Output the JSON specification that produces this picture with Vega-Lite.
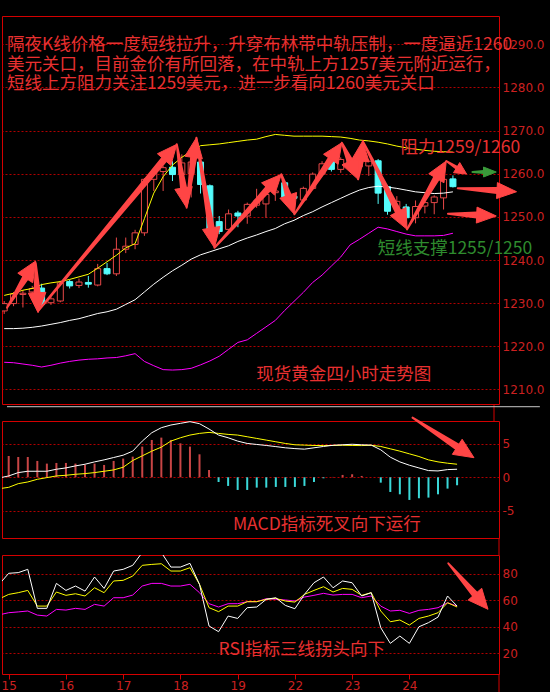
{
  "$schema": "https://vega.github.io/schema/vega-lite/v6.json",
  "background": "#000000",
  "padding": {"left": 0, "top": 15, "right": 12, "bottom": 12},
  "autosize": {"type": "pad"},
  "spacing": 17,
  "bounds": "flush",
  "config": {
    "view": {"stroke": "#d40000", "strokeWidth": 1},
    "axis": {"domain": false, "ticks": false, "grid": true, "gridColor": "#b00000", "gridDash": [2, 2], "gridWidth": 1, "labelColor": "#cc2020", "labelFont": "DejaVu Sans", "labelFontSize": 12, "labelPadding": 3, "labelOverlap": false}
  },
  "datasets": {
    "k": [
      {"i":-1,"o":1228.2,"h":1230.5,"l":1227.5,"c":1229.9,"up":1231.8,"mid":1224.1,"lo":1216.3},
      {"i":0,"o":1229.9,"h":1232.6,"l":1229.3,"c":1232.1,"up":1232.3,"mid":1224.1,"lo":1216.2},
      {"i":1,"o":1232.0,"h":1233.0,"l":1229.0,"c":1232.3,"up":1233.0,"mid":1224.2,"lo":1215.9},
      {"i":2,"o":1232.6,"h":1234.0,"l":1232.2,"c":1233.4,"up":1233.4,"mid":1224.4,"lo":1215.6},
      {"i":3,"o":1233.5,"h":1234.5,"l":1229.2,"c":1229.7,"up":1234.3,"mid":1224.7,"lo":1215.2},
      {"i":4,"o":1230.1,"h":1231.5,"l":1229.6,"c":1231.0,"up":1234.7,"mid":1225.1,"lo":1215.6},
      {"i":5,"o":1230.5,"h":1235.2,"l":1230.2,"c":1234.7,"up":1235.0,"mid":1225.5,"lo":1216.1},
      {"i":6,"o":1235.0,"h":1235.4,"l":1233.4,"c":1234.0,"up":1235.5,"mid":1226.0,"lo":1216.5},
      {"i":7,"o":1234.1,"h":1235.7,"l":1233.5,"c":1234.9,"up":1236.1,"mid":1226.4,"lo":1216.8},
      {"i":8,"o":1234.8,"h":1236.3,"l":1233.6,"c":1234.4,"up":1236.7,"mid":1227.0,"lo":1217.0},
      {"i":9,"o":1234.2,"h":1239.1,"l":1233.9,"c":1238.0,"up":1238.1,"mid":1227.6,"lo":1217.1},
      {"i":10,"o":1238.0,"h":1239.3,"l":1236.5,"c":1236.8,"up":1239.6,"mid":1228.0,"lo":1217.3},
      {"i":11,"o":1236.8,"h":1245.2,"l":1236.3,"c":1242.5,"up":1241.1,"mid":1228.6,"lo":1217.4},
      {"i":12,"o":1242.5,"h":1245.2,"l":1241.6,"c":1243.2,"up":1242.8,"mid":1229.7,"lo":1217.8},
      {"i":13,"o":1243.6,"h":1247.0,"l":1242.5,"c":1246.3,"up":1243.8,"mid":1230.8,"lo":1218.3},
      {"i":14,"o":1246.3,"h":1259.0,"l":1245.6,"c":1258.7,"up":1249.6,"mid":1232.6,"lo":1216.5},
      {"i":15,"o":1258.7,"h":1261.0,"l":1256.0,"c":1260.2,"up":1255.5,"mid":1234.4,"lo":1215.5},
      {"i":16,"o":1260.5,"h":1261.8,"l":1256.0,"c":1261.4,"up":1259.3,"mid":1236.0,"lo":1214.6},
      {"i":17,"o":1261.5,"h":1262.9,"l":1258.3,"c":1259.8,"up":1262.0,"mid":1237.5,"lo":1214.5},
      {"i":18,"o":1259.8,"h":1264.5,"l":1258.0,"c":1262.5,"up":1263.8,"mid":1238.8,"lo":1214.6},
      {"i":19,"o":1260.0,"h":1264.0,"l":1254.5,"c":1262.7,"up":1265.2,"mid":1240.2,"lo":1214.9},
      {"i":20,"o":1262.7,"h":1263.0,"l":1255.4,"c":1257.5,"up":1266.5,"mid":1241.2,"lo":1215.7},
      {"i":21,"o":1257.2,"h":1257.5,"l":1246.5,"c":1247.0,"up":1266.7,"mid":1241.9,"lo":1216.6},
      {"i":22,"o":1248.9,"h":1250.2,"l":1246.0,"c":1246.6,"up":1266.9,"mid":1242.6,"lo":1217.7},
      {"i":23,"o":1247.1,"h":1251.7,"l":1246.8,"c":1250.7,"up":1267.2,"mid":1243.3,"lo":1219.3},
      {"i":24,"o":1250.9,"h":1251.4,"l":1247.6,"c":1250.2,"up":1267.5,"mid":1244.3,"lo":1220.9},
      {"i":25,"o":1250.2,"h":1253.3,"l":1248.4,"c":1252.9,"up":1267.8,"mid":1245.1,"lo":1221.5},
      {"i":26,"o":1252.7,"h":1256.5,"l":1252.1,"c":1253.7,"up":1268.0,"mid":1245.8,"lo":1223.0},
      {"i":27,"o":1253.0,"h":1255.6,"l":1249.8,"c":1255.2,"up":1268.6,"mid":1246.6,"lo":1224.5},
      {"i":28,"o":1255.6,"h":1257.9,"l":1253.7,"c":1256.0,"up":1269.1,"mid":1247.3,"lo":1226.0},
      {"i":29,"o":1257.9,"h":1258.3,"l":1254.2,"c":1254.6,"up":1268.9,"mid":1248.4,"lo":1228.3},
      {"i":30,"o":1254.8,"h":1255.2,"l":1253.5,"c":1254.3,"up":1268.7,"mid":1249.2,"lo":1230.4},
      {"i":31,"o":1253.9,"h":1257.0,"l":1253.5,"c":1256.6,"up":1268.7,"mid":1250.3,"lo":1232.5},
      {"i":32,"o":1256.6,"h":1260.3,"l":1256.2,"c":1259.9,"up":1268.7,"mid":1251.2,"lo":1234.8},
      {"i":33,"o":1259.9,"h":1262.9,"l":1259.5,"c":1262.3,"up":1268.7,"mid":1252.3,"lo":1236.5},
      {"i":34,"o":1263.1,"h":1263.5,"l":1260.5,"c":1261.0,"up":1268.6,"mid":1253.3,"lo":1238.6},
      {"i":35,"o":1261.0,"h":1263.8,"l":1260.2,"c":1263.3,"up":1268.5,"mid":1254.3,"lo":1240.7},
      {"i":36,"o":1263.3,"h":1263.8,"l":1261.0,"c":1261.6,"up":1268.2,"mid":1255.3,"lo":1243.5},
      {"i":37,"o":1261.6,"h":1263.2,"l":1260.8,"c":1262.4,"up":1267.8,"mid":1256.2,"lo":1244.8},
      {"i":38,"o":1261.8,"h":1263.3,"l":1259.5,"c":1262.9,"up":1267.6,"mid":1256.8,"lo":1246.2},
      {"i":39,"o":1263.0,"h":1263.4,"l":1253.0,"c":1255.5,"up":1267.3,"mid":1257.1,"lo":1247.6},
      {"i":40,"o":1257.0,"h":1257.4,"l":1250.5,"c":1251.3,"up":1266.9,"mid":1256.9,"lo":1247.2},
      {"i":41,"o":1252.2,"h":1254.8,"l":1250.8,"c":1253.6,"up":1266.4,"mid":1256.6,"lo":1246.6},
      {"i":42,"o":1252.3,"h":1253.0,"l":1248.5,"c":1249.8,"up":1266.0,"mid":1256.2,"lo":1246.0},
      {"i":43,"o":1249.8,"h":1253.8,"l":1248.5,"c":1252.4,"up":1265.7,"mid":1255.8,"lo":1245.6},
      {"i":44,"o":1252.5,"h":1254.0,"l":1250.8,"c":1253.3,"up":1265.4,"mid":1255.6,"lo":1245.6},
      {"i":45,"o":1253.3,"h":1255.0,"l":1250.6,"c":1254.6,"up":1265.2,"mid":1255.4,"lo":1245.6},
      {"i":46,"o":1254.4,"h":1260.5,"l":1251.7,"c":1258.7,"up":1265.1,"mid":1255.5,"lo":1245.7},
      {"i":47,"o":1258.8,"h":1259.6,"l":1256.8,"c":1257.0,"up":1265.0,"mid":1255.8,"lo":1246.2}
    ],
    "m": [
      {"i":-1,"dif":-0.1,"dea":-1.7,"hist":3.3},
      {"i":0,"dif":0.2,"dea":-1.5,"hist":3.18},
      {"i":1,"dif":0.7,"dea":-0.95,"hist":3.03},
      {"i":2,"dif":0.9,"dea":-0.7,"hist":3.03},
      {"i":3,"dif":0.9,"dea":-0.3,"hist":2.44},
      {"i":4,"dif":0.9,"dea":-0.05,"hist":2.04},
      {"i":5,"dif":1.2,"dea":0.2,"hist":2.14},
      {"i":6,"dif":1.4,"dea":0.3,"hist":2.14},
      {"i":7,"dif":1.7,"dea":0.45,"hist":2.04},
      {"i":8,"dif":1.95,"dea":0.55,"hist":1.84},
      {"i":9,"dif":2.3,"dea":0.7,"hist":2.04},
      {"i":10,"dif":2.6,"dea":0.9,"hist":1.84},
      {"i":11,"dif":2.95,"dea":1.1,"hist":2.44},
      {"i":12,"dif":3.3,"dea":1.5,"hist":2.79},
      {"i":13,"dif":3.9,"dea":2.5,"hist":3.08},
      {"i":14,"dif":5.4,"dea":3.2,"hist":4.58},
      {"i":15,"dif":6.65,"dea":3.9,"hist":5.57},
      {"i":16,"dif":7.4,"dea":4.5,"hist":5.92},
      {"i":17,"dif":7.8,"dea":5.4,"hist":5.57},
      {"i":18,"dif":8.05,"dea":5.9,"hist":5.07},
      {"i":19,"dif":8.3,"dea":6.3,"hist":4.58},
      {"i":20,"dif":8.0,"dea":6.55,"hist":3.43},
      {"i":21,"dif":7.2,"dea":6.7,"hist":1.09},
      {"i":22,"dif":6.3,"dea":6.55,"hist":-0.7},
      {"i":23,"dif":5.9,"dea":6.4,"hist":-1.29},
      {"i":24,"dif":5.4,"dea":6.3,"hist":-1.89},
      {"i":25,"dif":5.05,"dea":6.05,"hist":-1.89},
      {"i":26,"dif":4.9,"dea":5.8,"hist":-1.54},
      {"i":27,"dif":4.75,"dea":5.55,"hist":-1.54},
      {"i":28,"dif":4.58,"dea":5.3,"hist":-1.44},
      {"i":29,"dif":4.4,"dea":5.05,"hist":-1.44},
      {"i":30,"dif":4.28,"dea":4.85,"hist":-1.44},
      {"i":31,"dif":4.2,"dea":4.8,"hist":-1.29},
      {"i":32,"dif":4.4,"dea":4.75,"hist":-0.7},
      {"i":33,"dif":4.6,"dea":4.73,"hist":-0.15},
      {"i":34,"dif":4.78,"dea":4.75,"hist":0.05},
      {"i":35,"dif":4.85,"dea":4.78,"hist":0.35},
      {"i":36,"dif":4.93,"dea":4.75,"hist":0.45},
      {"i":37,"dif":4.85,"dea":4.73,"hist":0.2},
      {"i":38,"dif":4.8,"dea":4.78,"hist":0.0},
      {"i":39,"dif":4.1,"dea":4.6,"hist":-0.8},
      {"i":40,"dif":3.0,"dea":4.25,"hist":-2.19},
      {"i":41,"dif":2.3,"dea":3.9,"hist":-2.54},
      {"i":42,"dif":1.8,"dea":3.5,"hist":-3.38},
      {"i":43,"dif":1.4,"dea":3.1,"hist":-3.13},
      {"i":44,"dif":1.0,"dea":2.6,"hist":-3.03},
      {"i":45,"dif":0.95,"dea":2.3,"hist":-2.54},
      {"i":46,"dif":1.15,"dea":2.1,"hist":-1.69},
      {"i":47,"dif":1.2,"dea":1.95,"hist":-1.19}
    ],
    "r": [
      {"i":-1,"r1":72,"r2":61,"r3":49},
      {"i":0,"r1":80.3,"r2":64.4,"r3":50.6},
      {"i":1,"r1":80.8,"r2":65.7,"r3":51.2},
      {"i":2,"r1":83.3,"r2":67.4,"r3":51.9},
      {"i":3,"r1":53.9,"r2":55.6,"r3":48.8},
      {"i":4,"r1":53.9,"r2":55.6,"r3":48.1},
      {"i":5,"r1":72.7,"r2":66.2,"r3":53.1},
      {"i":6,"r1":67.4,"r2":63.7,"r3":52.6},
      {"i":7,"r1":70.7,"r2":64.9,"r3":53.9},
      {"i":8,"r1":66.9,"r2":63.2,"r3":53.1},
      {"i":9,"r1":77.5,"r2":69.4,"r3":56.9},
      {"i":10,"r1":68.9,"r2":65.7,"r3":55.6},
      {"i":11,"r1":82,"r2":74.5,"r3":61.9},
      {"i":12,"r1":83.3,"r2":75,"r3":61.9},
      {"i":13,"r1":86.3,"r2":78.2,"r3":63.9},
      {"i":14,"r1":96,"r2":86.3,"r3":70.7},
      {"i":15,"r1":97,"r2":87,"r3":72.7},
      {"i":16,"r1":96,"r2":87.5,"r3":72.7},
      {"i":17,"r1":85,"r2":82,"r3":70.7},
      {"i":18,"r1":85,"r2":82,"r3":70.7},
      {"i":19,"r1":87.8,"r2":84.5,"r3":72},
      {"i":20,"r1":72,"r2":72,"r3":65.7},
      {"i":21,"r1":40.6,"r2":54.4,"r3":57.4},
      {"i":22,"r1":36.3,"r2":51.4,"r3":54.9},
      {"i":23,"r1":48.1,"r2":55.6,"r3":57.4},
      {"i":24,"r1":46.3,"r2":55.6,"r3":57.4},
      {"i":25,"r1":54.4,"r2":58.9,"r3":58.9},
      {"i":26,"r1":54.9,"r2":58.9,"r3":58.9},
      {"i":27,"r1":60.7,"r2":60.7,"r3":61.2},
      {"i":28,"r1":61.9,"r2":61.4,"r3":60.7},
      {"i":29,"r1":56.1,"r2":59.4,"r3":60.2},
      {"i":30,"r1":53.6,"r2":58.6,"r3":59.4},
      {"i":31,"r1":64.4,"r2":64.4,"r3":62.4},
      {"i":32,"r1":73.2,"r2":67.4,"r3":63.7},
      {"i":33,"r1":77.5,"r2":70.2,"r3":65.2},
      {"i":34,"r1":69.4,"r2":66.2,"r3":63.9},
      {"i":35,"r1":74.5,"r2":68.9,"r3":64.4},
      {"i":36,"r1":73.2,"r2":68.2,"r3":64.4},
      {"i":37,"r1":63.2,"r2":63.7,"r3":61.9},
      {"i":38,"r1":65.7,"r2":65.7,"r3":63.2},
      {"i":39,"r1":39.3,"r2":51.9,"r3":55.6},
      {"i":40,"r1":27.5,"r2":43.8,"r3":51.9},
      {"i":41,"r1":33,"r2":45.1,"r3":52.4},
      {"i":42,"r1":27.5,"r2":41.3,"r3":50.1},
      {"i":43,"r1":40,"r2":46.3,"r3":52.4},
      {"i":44,"r1":43.1,"r2":48.1,"r3":53.1},
      {"i":45,"r1":47.3,"r2":50.6,"r3":54.4},
      {"i":46,"r1":63.2,"r2":58.1,"r3":58.1},
      {"i":47,"r1":55.6,"r2":54.9,"r3":55.6}
    ],
    "arr": [
      {"a":"A1","g":"s","part":"tail","o":1,"i":-0.702,"v":1228.95,"k":"red"},
      {"a":"A1","g":"s","part":"neck","o":2,"i":1.254,"v":1235.84,"k":"red"},
      {"a":"A1","g":"h","o":1,"i":0.454,"v":1236.95,"k":"red"},
      {"a":"A1","g":"h","o":2,"i":2.369,"v":1239.77,"k":"red"},
      {"a":"A1","g":"h","o":3,"i":2.053,"v":1234.73,"k":"red"},
      {"a":"A2","g":"s","part":"tail","o":1,"i":2.369,"v":1239.30,"k":"red"},
      {"a":"A2","g":"s","part":"neck","o":2,"i":2.520,"v":1232.42,"k":"red"},
      {"a":"A2","g":"h","o":1,"i":3.462,"v":1232.52,"k":"red"},
      {"a":"A2","g":"h","o":2,"i":2.621,"v":1227.79,"k":"red"},
      {"a":"A2","g":"h","o":3,"i":1.578,"v":1232.32,"k":"red"},
      {"a":"A3","g":"s","part":"tail","o":1,"i":2.621,"v":1228.18,"k":"red"},
      {"a":"A3","g":"s","part":"neck","o":2,"i":16.106,"v":1263.28,"k":"red"},
      {"a":"A3","g":"h","o":1,"i":15.387,"v":1264.63,"k":"red"},
      {"a":"A3","g":"h","o":2,"i":17.463,"v":1266.81,"k":"red"},
      {"a":"A3","g":"h","o":3,"i":16.825,"v":1261.93,"k":"red"},
      {"a":"A4","g":"s","part":"tail","o":1,"i":17.463,"v":1266.81,"k":"red"},
      {"a":"A4","g":"s","part":"neck","o":2,"i":18.185,"v":1256.70,"k":"red"},
      {"a":"A4","g":"h","o":1,"i":19.116,"v":1257.02,"k":"red"},
      {"a":"A4","g":"h","o":2,"i":18.512,"v":1252.12,"k":"red"},
      {"a":"A4","g":"h","o":3,"i":17.253,"v":1256.38,"k":"red"},
      {"a":"A5","g":"s","part":"tail","o":1,"i":18.512,"v":1252.12,"k":"red"},
      {"a":"A5","g":"s","part":"neck","o":2,"i":19.263,"v":1263.75,"k":"red"},
      {"a":"A5","g":"h","o":1,"i":18.329,"v":1264.05,"k":"red"},
      {"a":"A5","g":"h","o":2,"i":19.560,"v":1268.34,"k":"red"},
      {"a":"A5","g":"h","o":3,"i":20.197,"v":1263.46,"k":"red"},
      {"a":"A6","g":"s","part":"tail","o":1,"i":19.560,"v":1268.34,"k":"red"},
      {"a":"A6","g":"s","part":"neck","o":2,"i":21.143,"v":1247.42,"k":"red"},
      {"a":"A6","g":"h","o":1,"i":22.073,"v":1247.77,"k":"red"},
      {"a":"A6","g":"h","o":2,"i":21.488,"v":1242.85,"k":"red"},
      {"a":"A6","g":"h","o":3,"i":20.212,"v":1247.08,"k":"red"},
      {"a":"A7","g":"s","part":"tail","o":1,"i":21.488,"v":1242.85,"k":"red"},
      {"a":"A7","g":"s","part":"neck","o":2,"i":27.220,"v":1256.47,"k":"red"},
      {"a":"A7","g":"h","o":1,"i":26.529,"v":1257.89,"k":"red"},
      {"a":"A7","g":"h","o":2,"i":28.648,"v":1259.86,"k":"red"},
      {"a":"A7","g":"h","o":3,"i":27.911,"v":1255.05,"k":"red"},
      {"a":"A8","g":"s","part":"tail","o":1,"i":28.648,"v":1259.86,"k":"red"},
      {"a":"A8","g":"s","part":"neck","o":2,"i":29.381,"v":1254.99,"k":"red"},
      {"a":"A8","g":"h","o":1,"i":30.276,"v":1255.65,"k":"red"},
      {"a":"A8","g":"h","o":2,"i":30.042,"v":1250.59,"k":"red"},
      {"a":"A8","g":"h","o":3,"i":28.485,"v":1254.33,"k":"red"},
      {"a":"A9","g":"s","part":"tail","o":1,"i":30.042,"v":1250.59,"k":"red"},
      {"a":"A9","g":"s","part":"neck","o":2,"i":33.941,"v":1263.34,"k":"red"},
      {"a":"A9","g":"h","o":1,"i":33.159,"v":1264.51,"k":"red"},
      {"a":"A9","g":"h","o":2,"i":35.115,"v":1267.18,"k":"red"},
      {"a":"A9","g":"h","o":3,"i":34.723,"v":1262.18,"k":"red"},
      {"a":"A10","g":"s","part":"tail","o":1,"i":35.115,"v":1267.18,"k":"red"},
      {"a":"A10","g":"s","part":"neck","o":2,"i":35.990,"v":1262.92,"k":"red"},
      {"a":"A10","g":"h","o":1,"i":36.849,"v":1263.78,"k":"red"},
      {"a":"A10","g":"h","o":2,"i":36.855,"v":1258.70,"k":"red"},
      {"a":"A10","g":"h","o":3,"i":35.130,"v":1262.06,"k":"red"},
      {"a":"A11","g":"s","part":"tail","o":1,"i":36.855,"v":1258.70,"k":"red"},
      {"a":"A11","g":"s","part":"neck","o":2,"i":37.092,"v":1262.98,"k":"red"},
      {"a":"A11","g":"h","o":1,"i":36.156,"v":1263.23,"k":"red"},
      {"a":"A11","g":"h","o":2,"i":37.348,"v":1267.58,"k":"red"},
      {"a":"A11","g":"h","o":3,"i":38.028,"v":1262.72,"k":"red"},
      {"a":"A12","g":"s","part":"tail","o":1,"i":37.348,"v":1267.58,"k":"red"},
      {"a":"A12","g":"s","part":"neck","o":2,"i":41.139,"v":1251.24,"k":"red"},
      {"a":"A12","g":"h","o":1,"i":41.979,"v":1252.19,"k":"red"},
      {"a":"A12","g":"h","o":2,"i":42.096,"v":1247.11,"k":"red"},
      {"a":"A12","g":"h","o":3,"i":40.300,"v":1250.29,"k":"red"},
      {"a":"A13","g":"s","part":"tail","o":1,"i":42.096,"v":1247.11,"k":"red"},
      {"a":"A13","g":"s","part":"neck","o":2,"i":45.230,"v":1258.94,"k":"red"},
      {"a":"A13","g":"h","o":1,"i":44.415,"v":1260.00,"k":"red"},
      {"a":"A13","g":"h","o":2,"i":46.289,"v":1262.94,"k":"red"},
      {"a":"A13","g":"h","o":3,"i":46.044,"v":1257.89,"k":"red"},
      {"a":"A14","g":"s","part":"tail","o":1,"i":46.289,"v":1262.94,"k":"red"},
      {"a":"A14","g":"s","part":"neck_s","o":2,"i":47.394,"v":1261.41,"k":"red"},
      {"a":"A14","g":"h","o":1,"i":47.729,"v":1262.59,"k":"red"},
      {"a":"A14","g":"h","o":2,"i":48.459,"v":1259.93,"k":"red"},
      {"a":"A14","g":"h","o":3,"i":47.060,"v":1260.23,"k":"red"},
      {"a":"A15","g":"s","part":"tail","o":1,"i":47.516,"v":1256.62,"k":"red"},
      {"a":"A15","g":"s","part":"neck","o":2,"i":51.712,"v":1256.09,"k":"red"},
      {"a":"A15","g":"h","o":1,"i":51.759,"v":1257.94,"k":"red"},
      {"a":"A15","g":"h","o":2,"i":53.805,"v":1255.83,"k":"red"},
      {"a":"A15","g":"h","o":3,"i":51.665,"v":1254.24,"k":"red"},
      {"a":"A16","g":"s","part":"tail","o":1,"i":46.468,"v":1250.73,"k":"red"},
      {"a":"A16","g":"s","part":"neck","o":2,"i":49.541,"v":1250.41,"k":"red"},
      {"a":"A16","g":"h","o":1,"i":49.580,"v":1252.26,"k":"red"},
      {"a":"A16","g":"h","o":2,"i":51.635,"v":1250.20,"k":"red"},
      {"a":"A16","g":"h","o":3,"i":49.502,"v":1248.56,"k":"red"},
      {"a":"A17","g":"s","part":"tail","o":1,"i":49.088,"v":1260.39,"k":"green"},
      {"a":"A17","g":"s","part":"neck_s","o":2,"i":50.273,"v":1260.39,"k":"green"},
      {"a":"A17","g":"h","o":1,"i":50.273,"v":1261.55,"k":"green"},
      {"a":"A17","g":"h","o":2,"i":51.635,"v":1260.39,"k":"green"},
      {"a":"A17","g":"h","o":3,"i":50.273,"v":1259.24,"k":"green"}
    ],
    "arrm": [
      {"a":"M1","g":"s","part":"tail","o":1,"i":42.327,"v":8.896,"k":"red"},
      {"a":"M1","g":"s","part":"neck","o":2,"i":47.016,"v":4.554,"k":"red"},
      {"a":"M1","g":"h","o":1,"i":47.531,"v":5.679,"k":"red"},
      {"a":"M1","g":"h","o":2,"i":48.774,"v":2.925,"k":"red"},
      {"a":"M1","g":"h","o":3,"i":46.502,"v":3.428,"k":"red"}
    ],
    "arrr": [
      {"a":"R1","g":"s","part":"tail","o":1,"i":46.080,"v":87.84,"k":"red"},
      {"a":"R1","g":"s","part":"neck","o":2,"i":48.872,"v":64.58,"k":"red"},
      {"a":"R1","g":"h","o":1,"i":49.585,"v":69.01,"k":"red"},
      {"a":"R1","g":"h","o":2,"i":50.241,"v":53.17,"k":"red"},
      {"a":"R1","g":"h","o":3,"i":48.158,"v":60.15,"k":"red"}
    ],
    "notes": [
      {"p":"main","t":"隔夜K线价格一度短线拉升，升穿布林带中轨压制，一度逼近1260","i":-0.702,"v":1289.83,"k":"txt"},
      {"p":"main","t":"美元关口，目前金价有所回落，在中轨上方1257美元附近运行，","i":-0.702,"v":1285.31,"k":"txt"},
      {"p":"main","t":"短线上方阻力关注1259美元，进一步看向1260美元关口","i":-0.702,"v":1280.79,"k":"txt"},
      {"p":"main","t":"阻力1259/1260","i":41.4,"v":1266.03,"k":"txt"},
      {"p":"main","t":"短线支撑1255/1250","i":38.95,"v":1242.48,"k":"gtxt"},
      {"p":"main","t":"现货黄金四小时走势图","i":25.97,"v":1213.35,"k":"txt"},
      {"p":"macd","t":"MACD指标死叉向下运行","i":23.5,"v":-7.12,"k":"txt"},
      {"p":"rsi","t":"RSI指标三线拐头向下","i":22.0,"v":22.5,"k":"txt"}
    ]
  },
  "vconcat": [
    {
      "width": 497,
      "height": 388,
      "layer": [
        {
          "data": {"name": "k"},
          "mark": {"type": "rule", "clip": true, "strokeWidth": 1},
          "encoding": {
            "x": {"field": "i", "type": "quantitative", "scale": {"domain": [-0.702, 51.394], "nice": false, "zero": false}, "axis": null},
            "y": {"field": "l", "type": "quantitative", "scale": {"domain": [1206.63, 1296.55], "nice": false, "zero": false}, "axis": {"orient": "right", "title": null, "values": [1210, 1220, 1230, 1240, 1250, 1260, 1270, 1280, 1290], "format": ".1f"}},
            "y2": {"field": "h"},
            "color": {"condition": {"test": "datum.c >= datum.o", "value": "#e84848"}, "value": "#54fcfc"}
          }
        },
        {
          "data": {"name": "k"},
          "mark": {"type": "bar", "size": 6, "clip": true, "strokeWidth": 1},
          "encoding": {
            "x": {"field": "i", "type": "quantitative", "scale": {"domain": [-0.702, 51.394], "nice": false, "zero": false}, "axis": null},
            "y": {"field": "o", "type": "quantitative", "scale": {"domain": [1206.63, 1296.55], "nice": false, "zero": false}},
            "y2": {"field": "c"},
            "fill": {"condition": {"test": "datum.c >= datum.o", "value": "#000000"}, "value": "#54fcfc"},
            "stroke": {"condition": {"test": "datum.c >= datum.o", "value": "#e84848"}, "value": "#54fcfc"}
          }
        },
        {
          "data": {"name": "k"},
          "mark": {"type": "line", "clip": true, "color": "#ffff00", "strokeWidth": 1},
          "encoding": {
            "x": {"field": "i", "type": "quantitative", "scale": {"domain": [-0.702, 51.394], "nice": false, "zero": false}, "axis": null},
            "y": {"field": "up", "type": "quantitative", "scale": {"domain": [1206.63, 1296.55], "nice": false, "zero": false}}
          }
        },
        {
          "data": {"name": "k"},
          "mark": {"type": "line", "clip": true, "color": "#ffffff", "strokeWidth": 1},
          "encoding": {
            "x": {"field": "i", "type": "quantitative", "scale": {"domain": [-0.702, 51.394], "nice": false, "zero": false}, "axis": null},
            "y": {"field": "mid", "type": "quantitative", "scale": {"domain": [1206.63, 1296.55], "nice": false, "zero": false}}
          }
        },
        {
          "data": {"name": "k"},
          "mark": {"type": "line", "clip": true, "color": "#ff00ff", "strokeWidth": 1},
          "encoding": {
            "x": {"field": "i", "type": "quantitative", "scale": {"domain": [-0.702, 51.394], "nice": false, "zero": false}, "axis": null},
            "y": {"field": "lo", "type": "quantitative", "scale": {"domain": [1206.63, 1296.55], "nice": false, "zero": false}}
          }
        },
        {
          "data": {"name": "arr"},
          "transform": [{"filter": "datum.g == 's'"}],
          "mark": {"type": "trail", "clip": false},
          "encoding": {
            "x": {"field": "i", "type": "quantitative", "scale": {"domain": [-0.702, 51.394], "nice": false, "zero": false}, "axis": null},
            "y": {"field": "v", "type": "quantitative", "scale": {"domain": [1206.63, 1296.55], "nice": false, "zero": false}},
            "detail": {"field": "a"},
            "order": {"field": "o", "type": "quantitative"},
            "size": {"field": "part", "type": "ordinal", "scale": {"type": "ordinal", "domain": ["tail", "neck", "neck_s"], "range": [2, 7, 4]}, "legend": null},
            "color": {"field": "k", "type": "nominal", "scale": {"domain": ["red", "green", "txt", "gtxt"], "range": ["#ff4545", "#3a9a3a", "#e83030", "#2e8b2e"]}, "legend": null}
          }
        },
        {
          "data": {"name": "arr"},
          "transform": [{"filter": "datum.g == 'h'"}],
          "mark": {"type": "line", "interpolate": "linear-closed", "clip": false, "strokeWidth": 1},
          "encoding": {
            "x": {"field": "i", "type": "quantitative", "scale": {"domain": [-0.702, 51.394], "nice": false, "zero": false}, "axis": null},
            "y": {"field": "v", "type": "quantitative", "scale": {"domain": [1206.63, 1296.55], "nice": false, "zero": false}},
            "detail": {"field": "a"},
            "order": {"field": "o", "type": "quantitative"},
            "fill": {"field": "k", "type": "nominal", "scale": {"domain": ["red", "green"], "range": ["#ff4545", "#3a9a3a"]}, "legend": null},
            "stroke": {"field": "k", "type": "nominal", "scale": {"domain": ["red", "green"], "range": ["#ff4545", "#3a9a3a"]}, "legend": null}
          }
        },
        {
          "data": {"name": "notes"},
          "transform": [{"filter": "datum.p == 'main'"}],
          "mark": {"type": "text", "align": "left", "baseline": "middle", "font": "Noto Sans CJK SC", "fontSize": 17.5, "clip": false},
          "encoding": {
            "x": {"field": "i", "type": "quantitative", "scale": {"domain": [-0.702, 51.394], "nice": false, "zero": false}, "axis": null},
            "y": {"field": "v", "type": "quantitative", "scale": {"domain": [1206.63, 1296.55], "nice": false, "zero": false}},
            "text": {"field": "t"},
            "color": {"field": "k", "type": "nominal", "scale": {"domain": ["red", "green", "txt", "gtxt"], "range": ["#ff4545", "#3a9a3a", "#e83030", "#2e8b2e"]}, "legend": null}
          }
        },
        {
          "data": {"values": [{}]},
          "mark": {"type": "rule", "clip": false, "color": "#d40000", "strokeWidth": 1},
          "encoding": {
            "x": {"datum": 51.394, "type": "quantitative", "scale": {"domain": [-0.702, 51.394], "nice": false, "zero": false}, "axis": null},
            "y": {"datum": 1206.63, "type": "quantitative", "scale": {"domain": [1206.63, 1296.55], "nice": false, "zero": false}},
            "y2": {"datum": 1202.6}
          }
        },
        {
          "data": {"values": [{}]},
          "mark": {"type": "rule", "clip": false, "color": "#c8c8c8", "strokeWidth": 1},
          "encoding": {
            "x": {"datum": -0.702, "type": "quantitative", "scale": {"domain": [-0.702, 51.394], "nice": false, "zero": false}, "axis": null},
            "x2": {"datum": 56.3},
            "y": {"datum": 1206.0, "type": "quantitative", "scale": {"domain": [1206.63, 1296.55], "nice": false, "zero": false}}
          }
        }
      ]
    },
    {
      "width": 497,
      "height": 117,
      "layer": [
        {
          "data": {"name": "m"},
          "mark": {"type": "rule", "clip": true, "strokeWidth": 2},
          "encoding": {
            "x": {"field": "i", "type": "quantitative", "scale": {"domain": [-0.702, 51.394], "nice": false, "zero": false}, "axis": null},
            "y": {"field": "hist", "type": "quantitative", "scale": {"domain": [-9.06, 8.40], "nice": false, "zero": false}, "axis": {"orient": "right", "title": null, "values": [-5, 0, 5], "labelExpr": "'' + datum.value"}},
            "y2": {"datum": 0},
            "color": {"condition": {"test": "datum.hist >= 0", "value": "#c84545"}, "value": "#3ad8d8"}
          }
        },
        {
          "data": {"name": "m"},
          "mark": {"type": "line", "clip": true, "color": "#ffff00", "strokeWidth": 1},
          "encoding": {
            "x": {"field": "i", "type": "quantitative", "scale": {"domain": [-0.702, 51.394], "nice": false, "zero": false}, "axis": null},
            "y": {"field": "dea", "type": "quantitative", "scale": {"domain": [-9.06, 8.40], "nice": false, "zero": false}}
          }
        },
        {
          "data": {"name": "m"},
          "mark": {"type": "line", "clip": true, "color": "#ffffff", "strokeWidth": 1},
          "encoding": {
            "x": {"field": "i", "type": "quantitative", "scale": {"domain": [-0.702, 51.394], "nice": false, "zero": false}, "axis": null},
            "y": {"field": "dif", "type": "quantitative", "scale": {"domain": [-9.06, 8.40], "nice": false, "zero": false}}
          }
        },
        {
          "data": {"name": "arrm"},
          "transform": [{"filter": "datum.g == 's'"}],
          "mark": {"type": "trail", "clip": false},
          "encoding": {
            "x": {"field": "i", "type": "quantitative", "scale": {"domain": [-0.702, 51.394], "nice": false, "zero": false}, "axis": null},
            "y": {"field": "v", "type": "quantitative", "scale": {"domain": [-9.06, 8.40], "nice": false, "zero": false}},
            "detail": {"field": "a"},
            "order": {"field": "o", "type": "quantitative"},
            "size": {"field": "part", "type": "ordinal", "scale": {"type": "ordinal", "domain": ["tail", "neck", "neck_s"], "range": [2, 7, 4]}, "legend": null},
            "color": {"field": "k", "type": "nominal", "scale": {"domain": ["red", "green", "txt", "gtxt"], "range": ["#ff4545", "#3a9a3a", "#e83030", "#2e8b2e"]}, "legend": null}
          }
        },
        {
          "data": {"name": "arrm"},
          "transform": [{"filter": "datum.g == 'h'"}],
          "mark": {"type": "line", "interpolate": "linear-closed", "clip": false, "strokeWidth": 1},
          "encoding": {
            "x": {"field": "i", "type": "quantitative", "scale": {"domain": [-0.702, 51.394], "nice": false, "zero": false}, "axis": null},
            "y": {"field": "v", "type": "quantitative", "scale": {"domain": [-9.06, 8.40], "nice": false, "zero": false}},
            "detail": {"field": "a"},
            "order": {"field": "o", "type": "quantitative"},
            "fill": {"field": "k", "type": "nominal", "scale": {"domain": ["red", "green"], "range": ["#ff4545", "#3a9a3a"]}, "legend": null},
            "stroke": {"field": "k", "type": "nominal", "scale": {"domain": ["red", "green"], "range": ["#ff4545", "#3a9a3a"]}, "legend": null}
          }
        },
        {
          "data": {"name": "notes"},
          "transform": [{"filter": "datum.p == 'macd'"}],
          "mark": {"type": "text", "align": "left", "baseline": "middle", "font": "Noto Sans CJK SC", "fontSize": 17.5, "clip": false},
          "encoding": {
            "x": {"field": "i", "type": "quantitative", "scale": {"domain": [-0.702, 51.394], "nice": false, "zero": false}, "axis": null},
            "y": {"field": "v", "type": "quantitative", "scale": {"domain": [-9.06, 8.40], "nice": false, "zero": false}},
            "text": {"field": "t"},
            "color": {"field": "k", "type": "nominal", "scale": {"domain": ["red", "green", "txt", "gtxt"], "range": ["#ff4545", "#3a9a3a", "#e83030", "#2e8b2e"]}, "legend": null}
          }
        },
        {
          "data": {"values": [{}]},
          "mark": {"type": "rule", "clip": false, "color": "#d40000", "strokeWidth": 1},
          "encoding": {
            "x": {"datum": 51.394, "type": "quantitative", "scale": {"domain": [-0.702, 51.394], "nice": false, "zero": false}, "axis": null},
            "y": {"datum": -9.06, "type": "quantitative", "scale": {"domain": [-9.06, 8.40], "nice": false, "zero": false}},
            "y2": {"datum": -11.6}
          }
        }
      ]
    },
    {
      "width": 497,
      "height": 119,
      "layer": [
        {
          "data": {"name": "r"},
          "mark": {"type": "line", "clip": true, "color": "#ff00ff", "strokeWidth": 1},
          "encoding": {
            "x": {"field": "i", "type": "quantitative", "scale": {"domain": [-0.702, 51.394], "nice": false, "zero": false}, "axis": {"orient": "bottom", "title": null, "values": [0, 6, 12, 18, 24, 30, 36, 42], "labelExpr": "['15','16','17','18','19','22','23','24'][round(datum.value / 6)]", "grid": false, "ticks": true, "tickSize": 5, "tickColor": "#d40000", "labelPadding": 1}},
            "y": {"field": "r3", "type": "quantitative", "scale": {"domain": [4.42, 94.09], "nice": false, "zero": false}, "axis": {"orient": "right", "title": null, "values": [20, 40, 60, 80], "tickCount": 4}}
          }
        },
        {
          "data": {"name": "r"},
          "mark": {"type": "line", "clip": true, "color": "#ffff00", "strokeWidth": 1},
          "encoding": {
            "x": {"field": "i", "type": "quantitative", "scale": {"domain": [-0.702, 51.394], "nice": false, "zero": false}},
            "y": {"field": "r2", "type": "quantitative", "scale": {"domain": [4.42, 94.09], "nice": false, "zero": false}}
          }
        },
        {
          "data": {"name": "r"},
          "mark": {"type": "line", "clip": true, "color": "#ffffff", "strokeWidth": 1},
          "encoding": {
            "x": {"field": "i", "type": "quantitative", "scale": {"domain": [-0.702, 51.394], "nice": false, "zero": false}},
            "y": {"field": "r1", "type": "quantitative", "scale": {"domain": [4.42, 94.09], "nice": false, "zero": false}}
          }
        },
        {
          "data": {"name": "arrr"},
          "transform": [{"filter": "datum.g == 's'"}],
          "mark": {"type": "trail", "clip": false},
          "encoding": {
            "x": {"field": "i", "type": "quantitative", "scale": {"domain": [-0.702, 51.394], "nice": false, "zero": false}},
            "y": {"field": "v", "type": "quantitative", "scale": {"domain": [4.42, 94.09], "nice": false, "zero": false}},
            "detail": {"field": "a"},
            "order": {"field": "o", "type": "quantitative"},
            "size": {"field": "part", "type": "ordinal", "scale": {"type": "ordinal", "domain": ["tail", "neck", "neck_s"], "range": [2, 7, 4]}, "legend": null},
            "color": {"field": "k", "type": "nominal", "scale": {"domain": ["red", "green", "txt", "gtxt"], "range": ["#ff4545", "#3a9a3a", "#e83030", "#2e8b2e"]}, "legend": null}
          }
        },
        {
          "data": {"name": "arrr"},
          "transform": [{"filter": "datum.g == 'h'"}],
          "mark": {"type": "line", "interpolate": "linear-closed", "clip": false, "strokeWidth": 1},
          "encoding": {
            "x": {"field": "i", "type": "quantitative", "scale": {"domain": [-0.702, 51.394], "nice": false, "zero": false}},
            "y": {"field": "v", "type": "quantitative", "scale": {"domain": [4.42, 94.09], "nice": false, "zero": false}},
            "detail": {"field": "a"},
            "order": {"field": "o", "type": "quantitative"},
            "fill": {"field": "k", "type": "nominal", "scale": {"domain": ["red", "green"], "range": ["#ff4545", "#3a9a3a"]}, "legend": null},
            "stroke": {"field": "k", "type": "nominal", "scale": {"domain": ["red", "green"], "range": ["#ff4545", "#3a9a3a"]}, "legend": null}
          }
        },
        {
          "data": {"name": "notes"},
          "transform": [{"filter": "datum.p == 'rsi'"}],
          "mark": {"type": "text", "align": "left", "baseline": "middle", "font": "Noto Sans CJK SC", "fontSize": 17.5, "clip": false},
          "encoding": {
            "x": {"field": "i", "type": "quantitative", "scale": {"domain": [-0.702, 51.394], "nice": false, "zero": false}},
            "y": {"field": "v", "type": "quantitative", "scale": {"domain": [4.42, 94.09], "nice": false, "zero": false}},
            "text": {"field": "t"},
            "color": {"field": "k", "type": "nominal", "scale": {"domain": ["red", "green", "txt", "gtxt"], "range": ["#ff4545", "#3a9a3a", "#e83030", "#2e8b2e"]}, "legend": null}
          }
        },
        {
          "data": {"values": [{}]},
          "mark": {"type": "rule", "clip": false, "color": "#d40000", "strokeWidth": 1},
          "encoding": {
            "x": {"datum": 51.394, "type": "quantitative", "scale": {"domain": [-0.702, 51.394], "nice": false, "zero": false}},
            "y": {"datum": 4.42, "type": "quantitative", "scale": {"domain": [4.42, 94.09], "nice": false, "zero": false}},
            "y2": {"datum": -10}
          }
        }
      ]
    }
  ]
}
